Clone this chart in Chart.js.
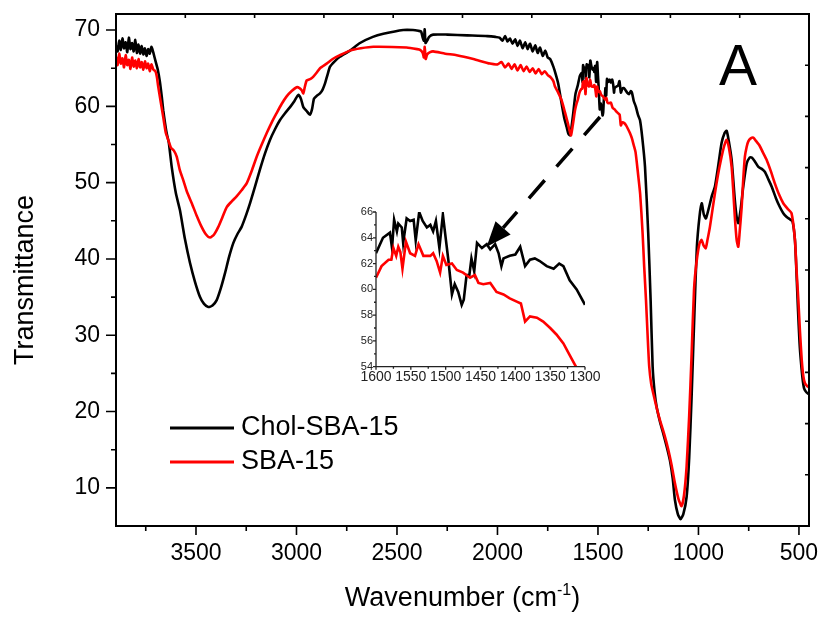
<!DOCTYPE html>
<html>
<head>
<meta charset="utf-8">
<script src="https://cdn.jsdelivr.net/npm/chart.js@4.4.1/dist/chart.umd.min.js"></script>
<style>
  html, body { margin: 0; padding: 0; background: #fff; }
  #wrap { position: relative; width: 822px; height: 617px; }
  #inset { position: absolute; left: 326px; top: 200px; }
</style>
</head>
<body>
<div id="wrap">
  <canvas id="main" width="822" height="617"></canvas>
  <canvas id="inset" width="290" height="190"></canvas>
</div>
<script>
// FTIR spectra, wavenumber (cm-1) vs transmittance
// Chol-SBA-15 (black)
const cholHiWn = [3898, 3890, 3882, 3874, 3866, 3858, 3850, 3842, 3834, 3826, 3818, 3810, 3802, 3794, 3786, 3778, 3770, 3762, 3754, 3746, 3738, 3730, 3722, 3714, 3706, 3698, 3690, 3680, 3670, 3663, 3654, 3646, 3635, 3621, 3600, 3580, 3555, 3530, 3505, 3480, 3460, 3439, 3418, 3397, 3376, 3356, 3335, 3314, 3293, 3273, 3250, 3231, 3205, 3182, 3157, 3132, 3107, 3082, 3057, 3032, 3010, 2991, 2978, 2966, 2950, 2933, 2922, 2913, 2898, 2883, 2870, 2858, 2845, 2833, 2810, 2784, 2734, 2684, 2620, 2568, 2469, 2420, 2394, 2380, 2372, 2366, 2362, 2358, 2350, 2340, 2320, 2250, 2150];
const cholHiT = [68.0, 67.2, 68.6, 67.4, 68.9, 67.6, 68.4, 67.1, 69.0, 67.5, 68.3, 67.2, 68.7, 67.0, 68.1, 66.9, 67.9, 66.8, 67.6, 66.6, 67.5, 66.9, 67.8, 67.2, 66.4, 65.6, 64.8, 63.3, 61.2, 59.5, 57.8, 56.5, 55.2, 52.1, 48.6, 46.4, 42.6, 39.5, 37.0, 35.0, 34.1, 33.7, 33.9, 34.6, 36.2, 38.1, 40.3, 42.1, 43.3, 44.2, 45.8, 47.3, 49.6, 51.7, 53.8, 55.6, 57.0, 58.2, 59.1, 59.9, 60.7, 61.5, 61.0, 59.9, 59.4, 58.9, 59.7, 61.0, 61.4, 61.7, 62.2, 63.0, 64.2, 65.2, 65.9, 66.5, 67.3, 68.3, 69.1, 69.5, 70.0, 70.0, 69.9, 69.8, 69.0, 68.6, 70.1, 68.3, 68.6, 69.1, 69.4, 69.4, 69.3];
const cholMidWn = [2050, 2010, 1990, 1975, 1962, 1950, 1938, 1925, 1912, 1900, 1888, 1875, 1862, 1850, 1838, 1825, 1812, 1800, 1788, 1775, 1762, 1750, 1738, 1722, 1710, 1698, 1681, 1668, 1656, 1647, 1639, 1632, 1623, 1612];
const cholMidT = [69.2, 69.1, 69.0, 68.6, 69.2, 68.5, 68.9, 68.2, 68.8, 67.9, 68.6, 67.6, 68.4, 67.5, 68.2, 67.2, 68.0, 67.0, 67.7, 66.6, 67.3, 66.4, 66.2, 65.2, 64.2, 63.0, 60.4, 58.5, 57.3, 56.4, 56.2, 57.2, 59.1, 61.6];
const cholInsetWn = [1600, 1590, 1580, 1577, 1574, 1570, 1568, 1563, 1561, 1556, 1551, 1546, 1543, 1538, 1533, 1527, 1522, 1518, 1514, 1509, 1504, 1500, 1496, 1491, 1487, 1482, 1477, 1474, 1470, 1466, 1463, 1459, 1455, 1448, 1441, 1436, 1429, 1424, 1420, 1417, 1408, 1400, 1393, 1386, 1379, 1372, 1365, 1355, 1345, 1337, 1331, 1322, 1312, 1300];
const cholInsetT = [62.8, 64.0, 64.4, 63.2, 65.4, 64.5, 65.1, 64.8, 63.6, 65.5, 65.3, 65.4, 63.8, 66.0, 65.3, 64.8, 65.0, 64.5, 65.3, 63.2, 65.8, 64.0, 62.2, 59.6, 60.4, 59.8, 58.8, 59.2, 61.1, 61.1, 62.4, 61.4, 63.6, 63.2, 63.5, 63.1, 63.5, 62.8, 61.8, 62.4, 62.6, 62.7, 63.3, 61.8, 62.3, 62.4, 62.2, 61.8, 61.6, 62.0, 61.8, 60.7, 60.0, 58.8];
const cholLoWn = [1291, 1280, 1266, 1250, 1238, 1228, 1218, 1208, 1190, 1175, 1158, 1142, 1128, 1117, 1103, 1089, 1075, 1059, 1046, 1034, 1020, 1008, 995, 984, 973, 963, 950, 934, 918, 900, 885, 870, 860, 850, 835, 819, 810, 802, 790, 777, 760, 745, 735, 720, 703, 685, 669, 655, 636, 615, 595, 578, 561, 545, 532, 520, 512, 505, 497, 490, 482, 474, 462, 452];
const cholLoT = [58.2, 56.0, 52.1, 43.4, 34.6, 25.9, 22.5, 20.6, 18.5, 17.1, 15.4, 13.6, 11.2, 8.4, 6.6, 5.9, 6.6, 8.8, 14.0, 22.0, 33.0, 41.5, 45.5, 47.3, 45.8, 45.3, 46.5, 48.2, 49.5, 52.5, 55.2, 56.5, 56.8, 55.6, 53.0, 47.7, 45.5, 44.7, 46.5, 49.5, 52.5, 53.3, 53.3, 52.8, 52.1, 51.8, 51.4, 50.6, 49.5, 48.0, 46.8, 46.0, 45.5, 45.2, 44.9, 42.5, 38.0, 33.5, 29.0, 26.5, 24.3, 23.0, 22.5, 22.3];

// SBA-15 (red)
const sbaHiWn = [3898, 3890, 3882, 3874, 3866, 3858, 3850, 3842, 3834, 3826, 3818, 3810, 3802, 3794, 3786, 3778, 3770, 3762, 3754, 3746, 3738, 3730, 3722, 3712, 3702, 3695, 3688, 3675, 3663, 3650, 3638, 3625, 3610, 3596, 3580, 3563, 3545, 3521, 3497, 3472, 3450, 3430, 3410, 3389, 3368, 3347, 3320, 3298, 3273, 3248, 3222, 3198, 3173, 3148, 3123, 3099, 3074, 3049, 3024, 2999, 2985, 2974, 2966, 2958, 2949, 2930, 2916, 2900, 2883, 2850, 2820, 2784, 2734, 2680, 2618, 2452, 2400, 2385, 2372, 2366, 2362, 2357, 2350, 2335, 2320, 2260, 2203, 2120];
const sbaHiT = [66.5, 65.4, 66.9, 65.6, 66.3, 65.1, 66.7, 65.4, 66.1, 64.9, 66.4, 65.2, 66.0, 65.0, 66.2, 65.1, 65.8, 64.8, 65.9, 65.0, 65.6, 64.6, 65.5, 64.8, 64.6, 63.9, 62.6, 60.5, 58.6, 56.5, 55.6, 54.6, 54.2, 53.4, 51.6, 50.3, 48.8, 47.3, 45.7, 44.2, 43.2, 42.8, 43.2, 44.2, 45.5, 46.8, 47.6, 48.2, 49.0, 49.9, 51.6, 53.4, 55.0, 56.5, 57.9, 59.1, 60.3, 61.3, 62.0, 62.5, 62.4, 62.1, 61.7, 62.6, 63.4, 63.6, 63.9, 64.4, 65.0, 65.6, 66.2, 66.7, 67.3, 67.6, 67.8, 67.7, 67.5, 67.4, 67.0, 66.4, 67.8, 66.2, 66.8, 67.1, 67.2, 66.9, 66.7, 66.2];
const sbaMidWn = [2037, 2000, 1980, 1962, 1945, 1930, 1915, 1900, 1885, 1870, 1855, 1840, 1825, 1810, 1795, 1780, 1765, 1750, 1735, 1722, 1714, 1698, 1681, 1664, 1650, 1641, 1634, 1626, 1614, 1606];
const sbaMidT = [65.6, 65.5, 65.8, 65.1, 65.6, 64.9, 65.5, 64.7, 65.4, 64.6, 65.2, 64.5, 65.0, 64.3, 64.9, 64.2, 64.6, 64.1, 63.8, 63.3, 62.6, 61.8, 60.8, 59.2, 57.8, 56.8, 56.2, 57.4, 59.5, 60.4];
const sbaInsetWn = [1600, 1592, 1582, 1578, 1575, 1571, 1568, 1565, 1562, 1557, 1551, 1544, 1539, 1532, 1522, 1518, 1513, 1508, 1504, 1499, 1491, 1484, 1475, 1465, 1458, 1453, 1446, 1436, 1427, 1417, 1408, 1398, 1392, 1386, 1379, 1369, 1360, 1350, 1341, 1331, 1322, 1313];
const sbaInsetT = [60.9, 61.8, 62.3, 62.3, 63.2, 62.6, 63.3, 62.9, 61.6, 63.7, 62.8, 62.6, 63.5, 62.6, 62.6, 62.8, 62.2, 61.3, 62.6, 61.9, 62.0, 61.5, 61.3, 60.9, 61.1, 60.5, 60.4, 60.5, 59.8, 59.6, 59.3, 59.05, 58.9, 57.5, 57.9, 57.8, 57.5, 57.0, 56.5, 55.8, 54.9, 54.0];
const sbaLoWn = [1300, 1290, 1278, 1270, 1261, 1253, 1245, 1235, 1225, 1208, 1192, 1170, 1150, 1133, 1117, 1100, 1084, 1072, 1059, 1046, 1034, 1022, 1010, 995, 984, 975, 964, 955, 943, 930, 918, 903, 888, 872, 860, 848, 835, 827, 819, 810, 802, 795, 785, 777, 769, 760, 752, 740, 727, 712, 697, 680, 661, 640, 620, 600, 578, 557, 537, 520, 512, 503, 495, 486, 478, 470, 458, 452];
const sbaLoT = [51.0, 48.5, 43.4, 39.0, 34.6, 30.0, 25.9, 23.6, 22.4, 20.5, 18.9, 17.0, 15.0, 12.9, 10.6, 8.6, 7.6, 9.0, 12.8, 19.5, 27.5, 36.0, 39.5, 42.0, 42.5, 41.8, 41.4, 42.5, 44.2, 46.5, 48.6, 51.0, 53.0, 54.8, 55.6, 54.5, 52.1, 49.0, 45.5, 42.5, 41.6, 43.5, 46.8, 50.5, 53.4, 54.7, 55.4, 55.8, 55.9, 55.4, 54.9, 54.0, 53.0, 51.5, 49.9, 48.5, 47.3, 46.6, 46.0, 42.5, 38.5, 34.6, 30.5, 26.7, 24.6, 23.7, 23.3, 23.2];

// axes
const xTicks = [3500, 3000, 2500, 2000, 1500, 1000, 500];
const xMinor = [3750, 3250, 2750, 2250, 1750, 1250, 750];
const yTicks = [10, 20, 30, 40, 50, 60, 70];
const yMinor = [15, 25, 35, 45, 55, 65];
const insetXTicks = [1600, 1550, 1500, 1450, 1400, 1350, 1300];
const insetXMinor = [1575, 1525, 1475, 1425, 1375, 1325];
const insetYTicks = [54, 56, 58, 60, 62, 64, 66];
const insetYMinor = [55, 57, 59, 61, 63, 65];

// arrow from the main spectrum down to the inset, [wavenumber, T]
const arrowFrom = [1490, 58.6];
const arrowTo = [2054, 41.6];

const FONT = '"Liberation Sans", Arial, Helvetica, sans-serif';
Chart.defaults.font.family = FONT;
Chart.defaults.color = '#000';

function pts(wn, t) {
  return wn.map((w, i) => ({ x: w, y: t[i] }));
}

const cholAll = pts(cholHiWn.concat(cholMidWn, cholInsetWn, cholLoWn), cholHiT.concat(cholMidT, cholInsetT, cholLoT));
const sbaAll = pts(sbaHiWn.concat(sbaMidWn, sbaInsetWn, sbaLoWn), sbaHiT.concat(sbaMidT, sbaInsetT, sbaLoT));

const mainDecor = {
  id: 'mainDecor',
  afterDatasetsDraw(chart) {
    const { ctx, scales: { x, y } } = chart;
    const x0 = x.getPixelForValue(arrowFrom[0]), y0 = y.getPixelForValue(arrowFrom[1]);
    const x1 = x.getPixelForValue(arrowTo[0]), y1 = y.getPixelForValue(arrowTo[1]);
    const ang = Math.atan2(y1 - y0, x1 - x0);
    const head = 25, half = 10;
    const bx = x1 - head * Math.cos(ang), by = y1 - head * Math.sin(ang);
    ctx.save();
    ctx.strokeStyle = '#000';
    ctx.fillStyle = '#000';
    ctx.lineWidth = 3.5;
    ctx.setLineDash([24, 18]);
    ctx.beginPath();
    ctx.moveTo(x0, y0);
    ctx.lineTo(bx, by);
    ctx.stroke();
    ctx.setLineDash([]);
    ctx.beginPath();
    ctx.moveTo(x1, y1);
    ctx.lineTo(bx + half * Math.sin(ang), by - half * Math.cos(ang));
    ctx.lineTo(bx - half * Math.sin(ang), by + half * Math.cos(ang));
    ctx.closePath();
    ctx.fill();
    ctx.restore();
  },
  afterDraw(chart) {
    const { ctx, chartArea: a, scales: { x, y } } = chart;
    ctx.save();
    ctx.strokeStyle = '#000';
    ctx.lineWidth = 2;
    ctx.strokeRect(a.left, a.top, a.right - a.left, a.bottom - a.top);

    // ticks
    ctx.lineWidth = 1.6;
    ctx.beginPath();
    xTicks.forEach(v => { const p = x.getPixelForValue(v); ctx.moveTo(p, a.bottom); ctx.lineTo(p, a.bottom + 9); });
    xMinor.forEach(v => { const p = x.getPixelForValue(v); ctx.moveTo(p, a.bottom); ctx.lineTo(p, a.bottom + 5); });
    yTicks.forEach(v => { const p = y.getPixelForValue(v); ctx.moveTo(a.left, p); ctx.lineTo(a.left - 10, p); });
    yMinor.forEach(v => { const p = y.getPixelForValue(v); ctx.moveTo(a.left, p); ctx.lineTo(a.left - 5, p); });
    // top and right axes: 10 divisions, inward ticks
    for (let i = 1; i < 10; i++) {
      const px = a.left + (a.right - a.left) * i / 10;
      ctx.moveTo(px, a.top); ctx.lineTo(px, a.top + 4);
      const py = a.top + (a.bottom - a.top) * i / 10;
      ctx.moveTo(a.right, py); ctx.lineTo(a.right - 4, py);
    }
    ctx.stroke();

    // axis titles
    ctx.fillStyle = '#000';
    ctx.textAlign = 'left';
    ctx.textBaseline = 'alphabetic';
    const big = '27px ' + FONT, small = '16px ' + FONT;
    const p1 = 'Wavenumber (cm', sup = '-1', p2 = ')';
    ctx.font = big; const w1 = ctx.measureText(p1).width; const w2 = ctx.measureText(p2).width;
    ctx.font = small; const ws = ctx.measureText(sup).width;
    let tx = (a.left + a.right) / 2 - (w1 + ws + w2) / 2;
    ctx.font = big; ctx.fillText(p1, tx, 606);
    ctx.font = small; ctx.fillText(sup, tx + w1, 595);
    ctx.font = big; ctx.fillText(p2, tx + w1 + ws, 606);

    ctx.save();
    ctx.translate(33, 280);
    ctx.rotate(-Math.PI / 2);
    ctx.textAlign = 'center';
    ctx.font = big;
    ctx.fillText('Transmittance', 0, 0);
    ctx.restore();

    // panel letter
    ctx.font = '57px ' + FONT;
    ctx.fillText('A', 719, 85);

    // legend
    const items = [
      { label: chart.data.datasets[0].label, color: chart.data.datasets[0].borderColor, y: 428 },
      { label: chart.data.datasets[1].label, color: chart.data.datasets[1].borderColor, y: 462 }
    ];
    ctx.font = '27px ' + FONT;
    ctx.textBaseline = 'middle';
    items.forEach(it => {
      ctx.strokeStyle = it.color;
      ctx.lineWidth = 3;
      ctx.beginPath();
      ctx.moveTo(170, it.y);
      ctx.lineTo(234, it.y);
      ctx.stroke();
      ctx.fillStyle = '#000';
      ctx.fillText(it.label, 241, it.y);
    });
    ctx.restore();
  }
};

new Chart(document.getElementById('main'), {
  type: 'line',
  data: {
    datasets: [
      { label: 'Chol-SBA-15', data: cholAll, borderColor: '#000000', order: 1 },
      { label: 'SBA-15', data: sbaAll, borderColor: '#ff0000', order: 0 }
    ]
  },
  options: {
    responsive: false,
    animation: false,
    layout: { padding: { left: 0, top: 14, right: 13, bottom: 0 } },
    elements: { point: { radius: 0 }, line: { borderWidth: 2.6, tension: 0.2 } },
    plugins: { legend: { display: false }, tooltip: { enabled: false } },
    scales: {
      x: {
        type: 'linear', reverse: true, min: 450, max: 3898,
        grid: { display: false, drawTicks: false },
        border: { display: false },
        ticks: { font: { size: 23 }, color: '#000', padding: 14, autoSkip: false, maxRotation: 0, callback: v => String(v) },
        afterBuildTicks: s => { s.ticks = xTicks.map(v => ({ value: v })); },
        afterFit: s => { s.height = 91; s.paddingLeft = 0; s.paddingRight = 0; }
      },
      y: {
        type: 'linear', min: 5, max: 72.1,
        grid: { display: false, drawTicks: false },
        border: { display: false },
        ticks: { font: { size: 23 }, color: '#000', padding: 16, autoSkip: false, callback: v => String(v) },
        afterBuildTicks: s => { s.ticks = yTicks.map(v => ({ value: v })); },
        afterFit: s => { s.width = 116; s.paddingTop = 0; s.paddingBottom = 0; }
      }
    }
  },
  plugins: [mainDecor]
});

const insetDecor = {
  id: 'insetDecor',
  afterDraw(chart) {
    const { ctx, chartArea: a, scales: { x, y } } = chart;
    ctx.save();
    ctx.strokeStyle = '#222';
    ctx.lineWidth = 1.3;
    ctx.beginPath();
    ctx.moveTo(a.left, a.top);
    ctx.lineTo(a.left, a.bottom);
    ctx.lineTo(a.right, a.bottom);
    insetXTicks.forEach(v => { const p = x.getPixelForValue(v); ctx.moveTo(p, a.bottom); ctx.lineTo(p, a.bottom + 3); });
    insetXMinor.forEach(v => { const p = x.getPixelForValue(v); ctx.moveTo(p, a.bottom); ctx.lineTo(p, a.bottom + 2); });
    insetYTicks.forEach(v => { const p = y.getPixelForValue(v); ctx.moveTo(a.left, p); ctx.lineTo(a.left - 3, p); });
    insetYMinor.forEach(v => { const p = y.getPixelForValue(v); ctx.moveTo(a.left, p); ctx.lineTo(a.left - 2, p); });
    ctx.stroke();
    ctx.restore();
  }
};

new Chart(document.getElementById('inset'), {
  type: 'line',
  data: {
    datasets: [
      { label: 'Chol-SBA-15', data: pts(cholInsetWn, cholInsetT), borderColor: '#000000', order: 1 },
      { label: 'SBA-15', data: pts(sbaInsetWn, sbaInsetT), borderColor: '#ff0000', order: 0 }
    ]
  },
  options: {
    responsive: false,
    animation: false,
    layout: { padding: { left: 0, top: 12, right: 31, bottom: 0 } },
    elements: { point: { radius: 0 }, line: { borderWidth: 2.6, tension: 0 } },
    plugins: { legend: { display: false }, tooltip: { enabled: false } },
    scales: {
      x: {
        type: 'linear', reverse: true, min: 1300, max: 1600,
        grid: { display: false, drawTicks: false },
        border: { display: false },
        ticks: { font: { size: 14 }, color: '#222', padding: 2, autoSkip: false, maxRotation: 0, callback: v => String(v) },
        afterBuildTicks: s => { s.ticks = insetXTicks.map(v => ({ value: v })); },
        afterFit: s => { s.height = 23.3; s.paddingLeft = 0; s.paddingRight = 0; }
      },
      y: {
        type: 'linear', min: 54, max: 66,
        grid: { display: false, drawTicks: false },
        border: { display: false },
        ticks: { font: { size: 11 }, color: '#222', padding: 3, autoSkip: false, callback: v => String(v) },
        afterBuildTicks: s => { s.ticks = insetYTicks.map(v => ({ value: v })); },
        afterFit: s => { s.width = 50; s.paddingTop = 0; s.paddingBottom = 0; }
      }
    }
  },
  plugins: [insetDecor]
});
</script>
</body>
</html>
